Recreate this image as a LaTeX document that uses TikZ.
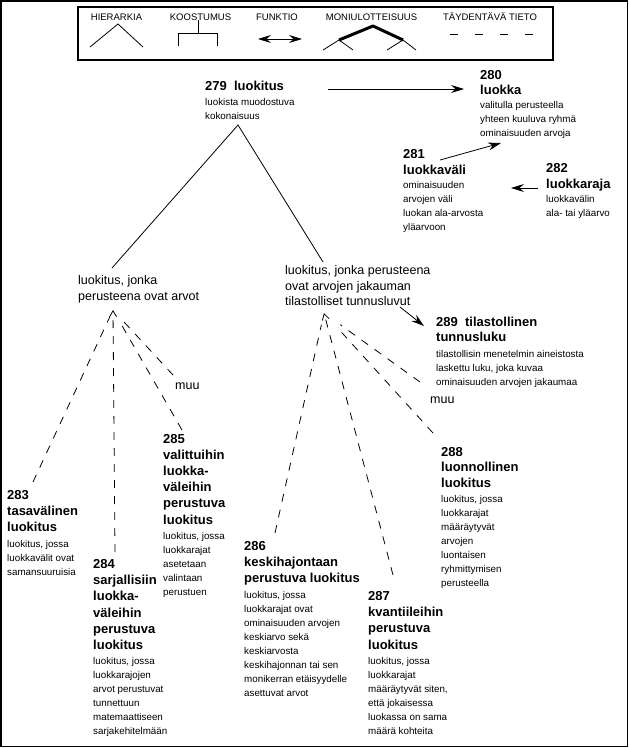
\documentclass[tikz,border=0pt]{standalone}
\usepackage{fontspec}
\setmainfont{Liberation Sans}
\usetikzlibrary{arrows.meta}
\newcommand\hd[1]{{\fontsize{13}{16}\selectfont\bfseries #1}}
\begin{document}
\begin{tikzpicture}[x=1pt,y=-1pt,
  txt/.style={anchor=north west,inner sep=0pt,align=left,font=\fontsize{9.8}{14}\selectfont},
  mid/.style={anchor=north west,inner sep=0pt,align=left,font=\fontsize{12.5}{15.5}\selectfont},
  leg/.style={inner sep=0pt,font=\fontsize{9.5}{11}\selectfont},
  con/.style={line width=0.8pt},
  fa/.style={line width=0.8pt,-{Stealth[length=13pt,width=8pt,inset=4.5pt]}},
  dsh/.style={line width=0.8pt,dash pattern=on 8pt off 8pt},
  oa/.style={-{Straight Barb[length=6pt,width=7pt]}}
]
\useasboundingbox (0,0) rectangle (629,748);
% outer frame
\draw[line width=1.5pt] (0.75,0.75) rectangle (627.6,746.6);
% legend
\draw[line width=1.2pt] (78,7) rectangle (553,60);
\node[leg] (lg1) at (116.5,17) {HIERARKIA};
\node[leg] (lg2) at (200.5,17) {KOOSTUMUS};
\node[leg] (lg3) at (277,17) {FUNKTIO};
\node[leg] (lg4) at (371.5,17) {MONIULOTTEISUUS};
\node[leg] (lg5) at (490,17) {TÄYDENTÄVÄ TIETO};
\draw[con] (90,47) -- (118,24) -- (143,47);
\draw[con] (198,20) -- (198,33);
\draw[con] (178,46) -- (178,33) -- (217,33) -- (217,46);
\draw[line width=0.8pt,{Stealth[length=13pt,width=8pt,inset=4.5pt]}-{Stealth[length=13pt,width=8pt,inset=4.5pt]}] (258,39) -- (302,39);
\draw[line width=3pt,line join=round] (339,40) -- (373,26) -- (403,40);
\draw[con] (323,50) -- (339,40) -- (353,50);
\draw[con] (387,50) -- (403,40) -- (416,50);
\draw[line width=0.8pt,dash pattern=on 8pt off 17pt] (450,34) -- (535,34);

% concept nodes
\node[txt] (n279) at (205,81.3) {\hd{279\ \ luokitus}\\[1pt]luokista muodostuva\\kokonaisuus};
\node[txt] (n280) at (480,70.3) {\hd{280}\\[1pt]\hd{luokka}\\valitulla perusteella\\yhteen kuuluva ryhmä\\ominaisuuden arvoja};
\node[txt] (n281) at (403,149.3) {\hd{281}\\[2pt]\hd{luokkaväli}\\ominaisuuden\\arvojen väli\\luokan ala-arvosta\\yläarvoon};
\node[txt] (n282) at (546,163.3) {\hd{282}\\[2pt]\hd{luokkaraja}\\luokkavälin\\ala- tai yläarvo};
\node[mid] (nL) at (78,275.4) {luokitus, jonka\\perusteena ovat arvot};
\node[mid] (nR) at (285,265.4) {luokitus, jonka perusteena\\ovat arvojen jakauman\\tilastolliset tunnusluvut};
\node[txt] (n289) at (436,317.3) {\hd{289\ \ tilastollinen}\\[1pt]\hd{tunnusluku}\\[2pt]tilastollisin menetelmin aineistosta\\laskettu luku, joka kuvaa\\ominaisuuden arvojen jakaumaa};
\node[mid,anchor=west] (muuL) at (175,386) {muu};
\node[mid,anchor=west] (muuR) at (430,400) {muu};
\node[txt] (n283) at (7,490.3) {\hd{283}\\[2.2pt]\hd{tasavälinen}\\[2.2pt]\hd{luokitus}\\[1.5pt]luokitus, jossa\\luokkavälit ovat\\samansuuruisia};
\node[txt] (n284) at (93,559.3) {\hd{284}\\[2.2pt]\hd{sarjallisiin}\\[2.2pt]\hd{luokka-}\\[2.2pt]\hd{väleihin}\\[2.2pt]\hd{perustuva}\\[2.2pt]\hd{luokitus}\\[1pt]luokitus, jossa\\luokkarajojen\\arvot perustuvat\\tunnettuun\\matemaattiseen\\sarjakehitelmään};
\node[txt] (n285) at (163,433.8) {\hd{285}\\[2.2pt]\hd{valittuihin}\\[2.2pt]\hd{luokka-}\\[2.2pt]\hd{väleihin}\\[2.2pt]\hd{perustuva}\\[2.2pt]\hd{luokitus}\\[1.5pt]luokitus, jossa\\luokkarajat\\asetetaan\\valintaan\\perustuen};
\node[txt] (n286) at (244,541.3) {\hd{286}\\[2pt]\hd{keskihajontaan}\\[1.5pt]\hd{perustuva luokitus}\\[2pt]luokitus, jossa\\luokkarajat ovat\\ominaisuuden arvojen\\keskiarvo sekä\\keskiarvosta\\keskihajonnan tai sen\\monikerran etäisyydelle\\asettuvat arvot};
\node[txt] (n287) at (368,591.3) {\hd{287}\\[2.2pt]\hd{kvantiileihin}\\[2.2pt]\hd{perustuva}\\[2.2pt]\hd{luokitus}\\[1pt]luokitus, jossa\\luokkarajat\\määräytyvät siten,\\että jokaisessa\\luokassa on sama\\määrä kohteita};
\node[txt] (n288) at (441,446.8) {\hd{288}\\[1.5pt]\hd{luonnollinen}\\[2pt]\hd{luokitus}\\[1pt]luokitus, jossa\\luokkarajat\\määräytyvät\\arvojen\\luontaisen\\ryhmittymisen\\perusteella};

% hierarchy
\coordinate (h279) at (238,125);
\coordinate (hL) at (112,268);
\coordinate (hR) at (323,262);
\draw[con] (hL) -- (h279) -- (hR);

% functional arrows
\coordinate (a1s) at (328,89);  \coordinate (a1e) at (464,89);
\coordinate (a2s) at (440,160); \coordinate (a2e) at (501,143);
\coordinate (a3s) at (538,188); \coordinate (a3e) at (511,188);
\coordinate (a4s) at (400,307); \coordinate (a4e) at (424,326);
\draw[fa] (a1s) -- (a1e);
\draw[fa] (a2s) -- (a2e);
\draw[fa] (a3s) -- (a3e);
\draw[fa] (a4s) -- (a4e);

% dashed supplementary links, left
\coordinate (aL) at (113,310);
\coordinate (e283) at (33,482);
\coordinate (e284) at (115,552);
\coordinate (e285) at (182,430);
\coordinate (eMuL) at (173,375);
\draw[dsh,shorten >=8pt] (e283) -- (aL);
\draw[dsh,oa,line width=0.8pt] (e284) -- (aL);
\draw[dsh,shorten >=12pt] (e285) -- (aL);
\draw[dsh,shorten >=12pt] (eMuL) -- (aL);

% dashed supplementary links, right
\coordinate (aR) at (324,313);
\coordinate (e286) at (275,533);
\coordinate (e287) at (393,575);
\coordinate (e288) at (433,433);
\coordinate (eMuR) at (420,382);
\draw[dsh,shorten >=12pt] (e286) -- (aR);
\draw[dsh,oa,line width=0.8pt] (e287) -- (aR);
\draw[dsh,shorten >=20pt] (e288) -- (aR);
\draw[dsh,shorten >=20pt] (eMuR) -- (aR);
\end{tikzpicture}
\end{document}
